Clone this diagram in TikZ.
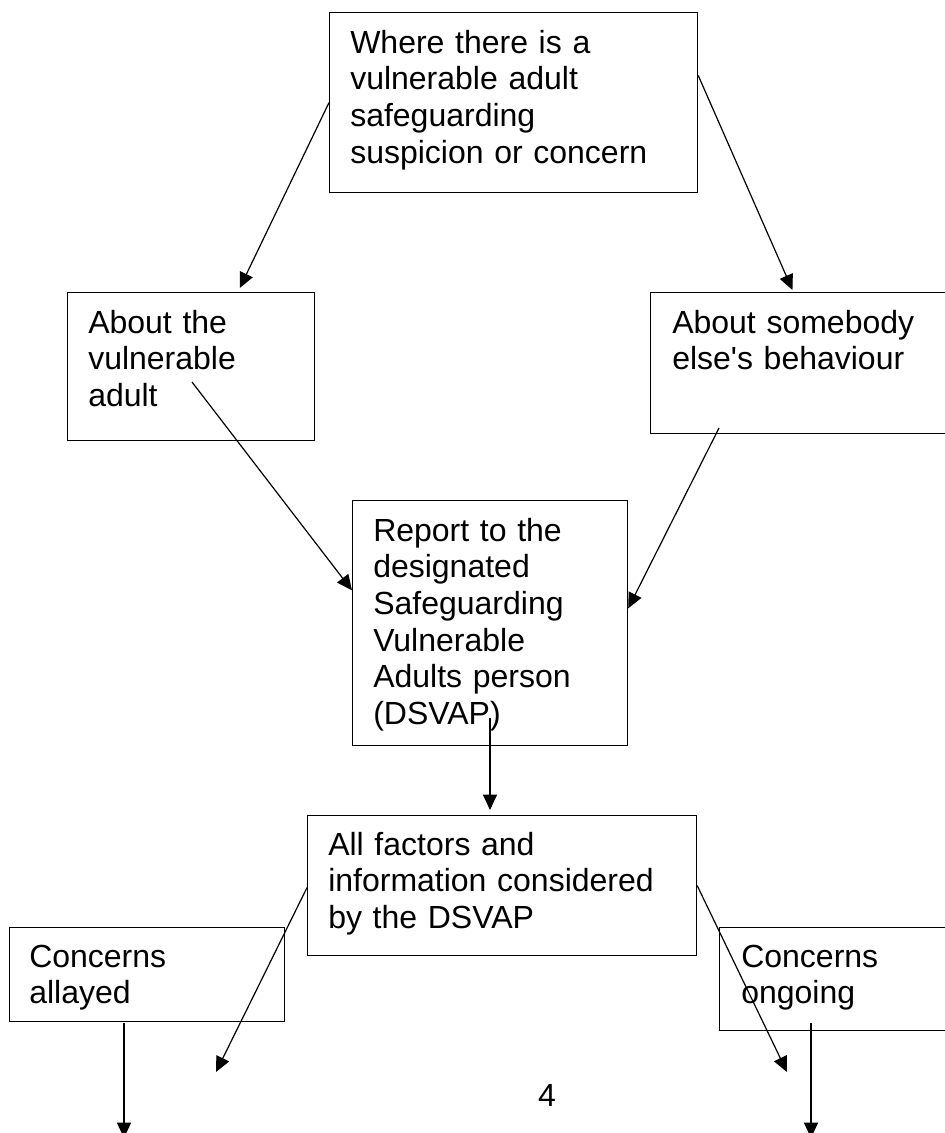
\documentclass[tikz,border=0pt]{standalone}
\usepackage{fontspec}
\setmainfont{Liberation Sans}[Ligatures=TeXOff]
\usetikzlibrary{arrows.meta,calc}
\begin{document}
\begin{tikzpicture}[x=0.75pt,y=-0.75pt,
  box/.style={draw, line width=0.9pt, inner sep=0pt, anchor=north west},
  txt/.style={anchor=base west, inner sep=0pt, text width=400pt, align=left, font=\fontsize{24}{27.5}\selectfont},
  arr/.style={line width=0.9pt, -{Triangle[length=11.5pt,width=10.5pt]}}]
\useasboundingbox (0,0) rectangle (945,1133);
% boxes
\node[box, minimum width=276pt, minimum height=135pt] (top) at (329,12) {};
\node[box, minimum width=185.25pt, minimum height=111pt] (left) at (67,292) {};
\node[box, minimum width=225pt, minimum height=105.75pt] (right) at (650,292) {};
\node[box, minimum width=206.25pt, minimum height=183.75pt] (center) at (352,500) {};
\node[box, minimum width=291.75pt, minimum height=105pt] (factors) at (307,815) {};
\node[box, minimum width=206.25pt, minimum height=70.5pt] (allayed) at (9,927) {};
\node[box, minimum width=173.25pt, minimum height=77.25pt] (ongoing) at (719,927) {};
% texts
\node[txt] (toptxt) at (350,53) {Where there is a\\vulnerable adult\\safeguarding\\suspicion or concern};
\node[txt] (lefttxt) at (88,333) {About the\\vulnerable\\adult};
\node[txt] (righttxt) at (672,333) {About somebody\\else's behaviour};
\node[txt] (centertxt) at (373,541) {Report to the\\designated\\Safeguarding\\Vulnerable\\Adults person\\(DSVAP)};
\node[txt] (factorstxt) at (328,855) {All factors and\\information considered\\by the DSVAP};
\node[txt] (allayedtxt) at (29,967) {Concerns\\allayed};
\node[txt] (ongoingtxt) at (741,967) {Concerns\\ongoing};
\node[anchor=base, inner sep=0pt, font=\fontsize{24}{27.5}\selectfont] (pagenum) at (547,1106) {4};
% connector ends
\coordinate (a1e) at ($(left.north west)!0.696!(left.north east)+(0,-4)$);
\coordinate (a2s) at ($(top.north east)!0.35!(top.south east)$);
\coordinate (a2e) at ($(right.north west)!0.473!(right.north east)+(0,-2)$);
\coordinate (a3s) at (192,382);
\coordinate (a3e) at ($(center.north west)!0.367!(center.south west)$);
\coordinate (a4s) at (719,428);
\coordinate (a4e) at ($(center.north east)!0.44!(center.south east)$);
\coordinate (a5s) at (490,718);
\coordinate (a5e) at ($(factors.north west)+(183,-5)$);
\coordinate (a6s) at ($(factors.north west)!0.514!(factors.south west)$);
\coordinate (a6e) at (216,1072);
\coordinate (a7s) at ($(factors.north east)!0.5!(factors.south east)$);
\coordinate (a7e) at (787,1072);
\coordinate (a8s) at (124,1023);
\coordinate (a8e) at (124,1138);
\coordinate (a9s) at (811,1023);
\coordinate (a9e) at (811,1138);
% connectors
\draw[arr] (top.west) -- (a1e);
\draw[arr] (a2s) -- (a2e);
\draw[arr] (a3s) -- (a3e);
\draw[arr] (a4s) -- (a4e);
\draw[arr] (a5s) -- (a5e);
\draw[arr] (a6s) -- (a6e);
\draw[arr] (a7s) -- (a7e);
\draw[arr] (a8s) -- (a8e);
\draw[arr] (a9s) -- (a9e);
\end{tikzpicture}
\end{document}
